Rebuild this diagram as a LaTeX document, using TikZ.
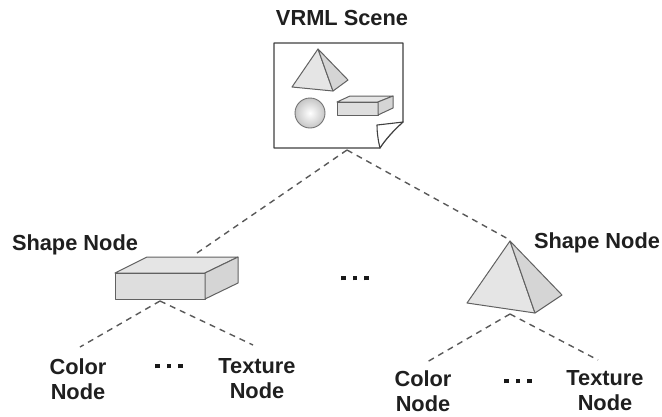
\documentclass[tikz,border=0pt]{standalone}
\usepackage{fontspec}
\setmainfont{Liberation Sans}
\begin{document}
\begin{tikzpicture}[x=1pt,y=-1pt,
  lbl/.style={font=\bfseries\fontsize{21.8}{25}\selectfont, text=black!88, align=center, inner sep=0pt},
  link/.style={draw=black!65, dash pattern=on 6pt off 5pt, line width=1.4pt},
  edge3d/.style={draw=black!62, line width=1pt, line join=round},
  facea/.style={edge3d, fill=gray!26},
  faceb/.style={edge3d, fill=gray!20},
  facec/.style={edge3d, fill=gray!33},
  dotrow/.style={inner sep=0pt, text=black!90},
  pageedge/.style={draw=black!75, line width=1.1pt, fill=white, line join=round},
]
\useasboundingbox (0,0) rectangle (662,416);

% ---------- scene page with curled corner ----------
\draw[pageedge]
  (274,43) -- (403,43) -- (403,122) .. controls (393,131) and (385,140) .. (380,148) -- (274,148) -- cycle;
% the curled-up flap
\draw[pageedge]
  (380,148) .. controls (378,140) and (377,132) .. (377,125)
  .. controls (386,124) and (395,123) .. (403,122)
  .. controls (393,131) and (385,140) .. cycle;
% pyramid on the page
\draw[faceb] (318,49) -- (292,87) -- (333,91) -- cycle;
\draw[facec] (318,49) -- (333,91) -- (348,80) -- cycle;
% sphere on the page
\shade[inner color=white, outer color=gray!45, draw=black!55, line width=0.9pt] (310,113) circle (15);
% slab on the page
\draw[faceb] (337,102) -- (350,96) -- (393,96) -- (378,102) -- cycle;
\draw[facea] (337,102) rectangle (378,115);
\draw[facec] (378,102) -- (393,96) -- (393,108) -- (378,115) -- cycle;
\coordinate (scene) at (347,150);

% ---------- left shape: box ----------
\draw[faceb] (115,273) -- (147,257) -- (238,257) -- (205,273) -- cycle;
\draw[facea] (115,273) rectangle (205,299);
\draw[facec] (205,273) -- (238,257) -- (238,283) -- (205,299) -- cycle;
\coordinate (boxtop) at (197,253);
\coordinate (boxbot) at (160,301);

% ---------- right shape: pyramid ----------
\draw[faceb] (510,241) -- (467,303) -- (535,313) -- cycle;
\draw[facec] (510,241) -- (535,313) -- (562,295) -- cycle;
\coordinate (pyrtop) at (510,240);
\coordinate (pyrbot) at (510,314);

% ---------- labels ----------
\node[lbl] (title)    at (342,18)    {VRML Scene};
\node[lbl] (shapeL)   at (75,245)    {Shape Node};
\node[lbl] (shapeR)   at (597,243)   {Shape Node};
\node[lbl] (colorL)   at (78,379)    {Color\\Node};
\node[lbl] (textureL) at (257,379)   {Texture\\Node};
\node[lbl] (colorR)   at (423,391)   {Color\\Node};
\node[lbl] (textureR) at (605,391)   {Texture\\Node};

% ---------- ellipses ----------
\newcommand{\threedots}{\rule{4.5pt}{4.5pt}\hspace{7pt}\rule{4.5pt}{4.5pt}\hspace{7pt}\rule{4.5pt}{4.5pt}}
\node[dotrow] (dotsM) at (355,278) {\threedots};
\node[dotrow] (dotsL) at (169,366) {\threedots};
\node[dotrow] (dotsR) at (518,381) {\threedots};

% ---------- connector ends ----------
\coordinate (cLend) at (80,347);
\coordinate (tLend) at (253,345);
\coordinate (cRend) at (427,362);
\coordinate (tRend) at (598,360);

% ---------- dashed connectors ----------
\draw[link] (scene) -- (boxtop);
\draw[link] (scene) -- (pyrtop);
\draw[link] (boxbot) -- (cLend);
\draw[link] (boxbot) -- (tLend);
\draw[link] (pyrbot) -- (cRend);
\draw[link] (pyrbot) -- (tRend);
\end{tikzpicture}
\end{document}
